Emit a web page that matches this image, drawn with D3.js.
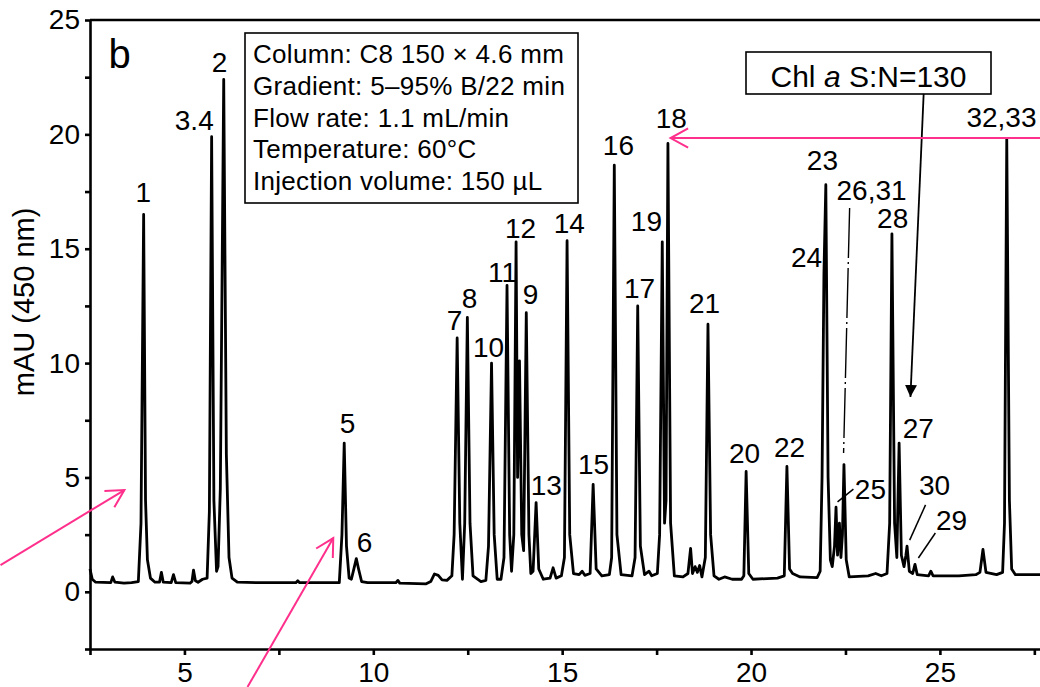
<!DOCTYPE html>
<html>
<head>
<meta charset="utf-8">
<script src="https://cdn.jsdelivr.net/npm/d3@7"></script>
<style>
  body { margin: 0; background: #fff; }
  svg { display: block; font-family: "Liberation Sans", Arial, Helvetica, sans-serif; }
  .axis path, .axis line { stroke: #000; stroke-width: 2.6; }
  .axis text { font-size: 28px; fill: #000; }
</style>
</head>
<body>
<div id="chart"></div>
<script>
// chromatogram trace: [time (min), signal (mAU)]
const trace = [
  [2.50,1.00],[2.56,0.55],[2.65,0.42],[3.05,0.40],[3.10,0.65],[3.16,0.42],[3.40,0.38],[3.60,0.40],[3.78,0.45],
  [3.85,3.0],[3.92,16.5],[3.97,4.0],[4.02,1.4],[4.10,0.6],[4.22,0.42],
  [4.34,0.42],[4.39,0.85],[4.44,0.42],[4.65,0.40],[4.71,0.75],[4.77,0.40],[5.15,0.38],[5.20,0.45],[5.24,0.95],
  [5.29,0.48],[5.36,0.42],[5.48,0.55],[5.60,0.60],
  [5.66,3.5],[5.72,19.9],[5.78,4.0],[5.85,0.9],[5.89,1.1],[5.95,4.5],[6.04,22.4],[6.11,6.0],[6.18,1.5],[6.26,0.6],[6.40,0.42],
  [7.00,0.40],[7.95,0.40],[8.00,0.48],[8.05,0.40],[9.10,0.40],
  [9.17,2.5],[9.23,6.5],[9.29,2.0],[9.36,0.6],[9.42,0.55],[9.50,1.1],[9.55,1.45],[9.61,1.0],[9.69,0.45],[9.85,0.40],
  [10.60,0.40],[10.65,0.50],[10.70,0.38],[11.40,0.35],[11.52,0.45],[11.62,0.78],[11.72,0.72],[11.82,0.52],[11.95,0.50],[12.08,0.70],
  [12.14,2.5],[12.22,11.1],[12.29,3.0],[12.36,0.55],[12.42,3.0],[12.49,12.0],[12.56,3.0],[12.64,0.7],[12.85,0.45],
  [12.98,0.5],[13.05,2.0],[13.13,10.0],[13.20,2.5],[13.28,0.55],[13.38,0.55],
  [13.46,1.5],[13.54,13.4],[13.61,2.5],[13.66,0.9],[13.72,2.5],[13.78,15.3],[13.82,5.0],[13.87,10.1],[13.93,2.5],
  [13.98,1.8],[14.05,12.2],[14.12,2.5],[14.17,0.8],
  [14.23,0.9],[14.31,3.9],[14.38,1.0],[14.50,0.55],[14.68,0.60],[14.76,1.05],[14.84,0.60],[14.98,0.70],
  [15.06,1.5],[15.13,15.35],[15.20,2.5],[15.30,0.8],[15.45,0.75],[15.53,0.90],[15.60,0.72],[15.74,0.80],
  [15.82,4.7],[15.90,1.0],[16.05,0.70],[16.25,0.75],[16.31,1.5],[16.38,18.65],[16.45,2.5],[16.56,0.75],[16.85,0.70],
  [16.93,1.5],[17.00,12.5],[17.07,2.0],[17.18,0.75],[17.30,0.90],[17.37,0.70],[17.52,0.80],
  [17.58,2.5],[17.65,15.3],[17.71,3.0],[17.75,4.0],[17.80,19.6],[17.87,3.0],[17.97,0.70],
  [18.20,0.65],[18.33,0.80],[18.40,1.9],[18.45,0.80],[18.52,1.1],[18.58,0.85],[18.64,1.15],[18.70,0.65],
  [18.79,1.5],[18.86,11.7],[18.93,2.5],[19.02,0.70],[19.15,0.55],[19.30,0.65],[19.50,0.55],[19.75,0.55],
  [19.81,0.7],[19.87,5.26],[19.94,0.8],[20.05,0.55],[20.70,0.60],[20.88,0.70],[20.95,5.48],[21.02,1.0],[21.10,0.80],
  [21.30,0.65],[21.75,0.62],
  [21.83,0.9],[21.88,5.0],[21.93,13.9],[21.98,17.8],[22.04,5.0],[22.10,1.4],[22.15,1.1],[22.21,2.0],[22.25,3.7],
  [22.29,1.6],[22.34,3.0],[22.38,1.5],[22.42,2.5],[22.46,5.56],[22.52,1.4],[22.60,0.65],
  [23.10,0.70],[23.30,0.80],[23.45,0.70],[23.60,0.80],[23.67,3.0],[23.73,15.65],[23.80,3.0],[23.86,1.5],[23.92,6.5],
  [23.98,1.6],[24.05,1.1],[24.10,1.6],[24.13,2.0],[24.19,0.9],[24.28,0.80],[24.34,1.2],[24.40,0.75],[24.70,0.70],
  [24.76,0.90],[24.82,0.70],
  [25.50,0.70],[25.95,0.75],[26.06,0.85],[26.14,1.85],[26.22,0.85],[26.50,0.75],[26.66,0.85],[26.71,3.0],[26.77,19.8],
  [26.84,4.0],[26.90,1.0],[27.00,0.75],[27.65,0.75]
];

// peak numbers and where they sit (time, signal of label baseline)
const peakNames = ["1","3.4","2","5","6","7","8","10","11","12","9","13","14","15","16","17","19","18",
  "21","20","22","23","24","26,31","28","27","25","30","29","32,33"];
const peakLabelTime = [3.91,5.26,5.93,9.32,9.77,12.15,12.55,13.05,13.42,13.90,14.16,14.58,15.19,15.83,16.49,17.05,17.23,17.89,
  18.77,19.83,21.02,21.89,21.47,23.19,23.75,24.43,23.16,24.86,25.31,26.63];
const peakLabelSignal = [17.04,20.19,22.73,6.95,1.75,11.45,12.41,10.27,13.55,15.47,12.59,4.23,15.69,5.15,19.10,12.85,15.78,20.28,
  12.19,5.63,5.90,18.44,14.20,17.13,15.90,6.72,4.06,4.23,2.70,20.33];

// leader lines for crowded peaks: [t1, v1, t2, v2]
const leaders = [
  [22.29,3.93,22.71,4.49],
  [24.62,3.80,24.20,2.26],
  [24.88,2.57,24.43,1.48]
];
const dashLeader = [22.61,16.78,22.45,6.07];

const conditions = [
  "Column: C8 150 \u00d7 4.6 mm",
  "Gradient: 5\u201395% B/22 min",
  "Flow rate: 1.1 mL/min",
  "Temperature: 60\u00b0C",
  "Injection volume: 150 \u00b5L"
];

// pink pointer arrows: [fromT, fromV, toT, toV]
const pinkArrows = [
  [0.13,1.17,3.41,4.45],
  [6.67,-4.16,8.94,2.35],
  [27.66,19.84,17.87,19.84]
];

const xTicks = d3.range(2.5, 27.6, 2.5);
const yTicks = d3.range(-2.5, 25.1, 2.5);

const W = 1040, H = 687;
const svg = d3.select("#chart").append("svg").attr("width", W).attr("height", H);

const x = d3.scaleLinear().domain([2.5, 27.65]).range([90, 1040]);
const y = d3.scaleLinear().domain([-2.5, 25]).range([649, 20]);

// axes
svg.append("g")
  .attr("class", "axis")
  .attr("transform", `translate(0,${y(-2.5)})`)
  .call(d3.axisBottom(x).tickValues(xTicks).tickSize(6).tickSizeOuter(0).tickPadding(7)
    .tickFormat(d => d % 5 === 0 ? d : ""));

svg.append("g")
  .attr("class", "axis")
  .attr("transform", `translate(${x(2.5)},0)`)
  .call(d3.axisLeft(y).tickValues(yTicks).tickSize(5).tickSizeOuter(0).tickPadding(5)
    .tickFormat(d => d % 5 === 0 && d >= 0 ? d : ""));

svg.append("line")
  .attr("x1", x(2.5)).attr("x2", x(27.65))
  .attr("y1", y(25)).attr("y2", y(25))
  .attr("stroke", "#000").attr("stroke-width", 2.6);

svg.append("text")
  .attr("transform", `translate(34,${(y(5) + y(20)) / 2 - 4}) rotate(-90)`)
  .attr("text-anchor", "middle")
  .attr("font-size", 29)
  .text("mAU (450 nm)");

svg.append("text")
  .attr("x", x(2.99)).attr("y", y(22.9))
  .attr("font-size", 40)
  .text("b");

// trace
const line = d3.line().x(d => x(d[0])).y(d => y(d[1]));
svg.append("path")
  .datum(trace)
  .attr("d", line)
  .attr("fill", "none")
  .attr("stroke", "#000")
  .attr("stroke-width", 2.8)
  .attr("stroke-linejoin", "round");

// peak labels
svg.append("g").selectAll("text")
  .data(peakNames)
  .join("text")
  .attr("x", (d, i) => x(peakLabelTime[i]))
  .attr("y", (d, i) => y(peakLabelSignal[i]))
  .attr("text-anchor", "middle")
  .attr("font-size", 28)
  .text(d => d);

svg.append("g").selectAll("line")
  .data(leaders)
  .join("line")
  .attr("x1", d => x(d[0])).attr("y1", d => y(d[1]))
  .attr("x2", d => x(d[2])).attr("y2", d => y(d[3]))
  .attr("stroke", "#000").attr("stroke-width", 1.5);

svg.append("line")
  .attr("x1", x(dashLeader[0])).attr("y1", y(dashLeader[1]))
  .attr("x2", x(dashLeader[2])).attr("y2", y(dashLeader[3]))
  .attr("stroke", "#000").attr("stroke-width", 1.4)
  .attr("stroke-dasharray", "50 4 2 4");

// conditions box
const box = svg.append("g");
box.append("rect")
  .attr("x", 245).attr("y", 33).attr("width", 333).attr("height", 170)
  .attr("fill", "#fff").attr("stroke", "#000").attr("stroke-width", 1.6);
box.selectAll("text")
  .data(conditions)
  .join("text")
  .attr("x", 253)
  .attr("y", (d, i) => 63 + i * 31.8)
  .attr("font-size", 26)
  .attr("letter-spacing", 0.3)
  .text(d => d);

// Chl a signal-to-noise callout
const chl = svg.append("g");
const chlText = chl.append("text")
  .attr("x", x(23.11)).attr("y", y(22.07))
  .attr("text-anchor", "middle")
  .attr("font-size", 30);
chlText.append("tspan").text("Chl ");
chlText.append("tspan").attr("font-style", "italic").text("a");
chlText.append("tspan").text(" S:N=130");
chl.insert("rect", "text")
  .attr("x", 746).attr("y", 52).attr("width", 245).attr("height", 42)
  .attr("fill", "#fff").attr("stroke", "#000").attr("stroke-width", 1.6);

const defs = svg.append("defs");
defs.append("marker")
  .attr("id", "blackHead")
  .attr("viewBox", "0 0 10 10").attr("refX", 10).attr("refY", 5)
  .attr("markerWidth", 12).attr("markerHeight", 14)
  .attr("markerUnits", "userSpaceOnUse")
  .attr("orient", "auto")
  .append("path").attr("d", "M0,0L10,5L0,10Z").attr("fill", "#000");

svg.append("line")
  .attr("x1", x(24.57)).attr("y1", y(21.77))
  .attr("x2", x(24.22)).attr("y2", y(8.52))
  .attr("stroke", "#000").attr("stroke-width", 1.8)
  .attr("marker-end", "url(#blackHead)");

// pink arrows with open heads
const pink = "#ff2f8c";
pinkArrows.forEach(a => {
  const x1 = x(a[0]), y1 = y(a[1]), x2 = x(a[2]), y2 = y(a[3]);
  const ang = Math.atan2(y2 - y1, x2 - x1);
  const len = 20, spread = 0.5;
  svg.append("line")
    .attr("x1", x1).attr("y1", y1).attr("x2", x2).attr("y2", y2)
    .attr("stroke", pink).attr("stroke-width", 2);
  svg.append("path")
    .attr("d", `M${x2 - len * Math.cos(ang - spread)},${y2 - len * Math.sin(ang - spread)}` +
      `L${x2},${y2}L${x2 - len * Math.cos(ang + spread)},${y2 - len * Math.sin(ang + spread)}`)
    .attr("fill", "none").attr("stroke", pink).attr("stroke-width", 2);
});
</script>
</body>
</html>
